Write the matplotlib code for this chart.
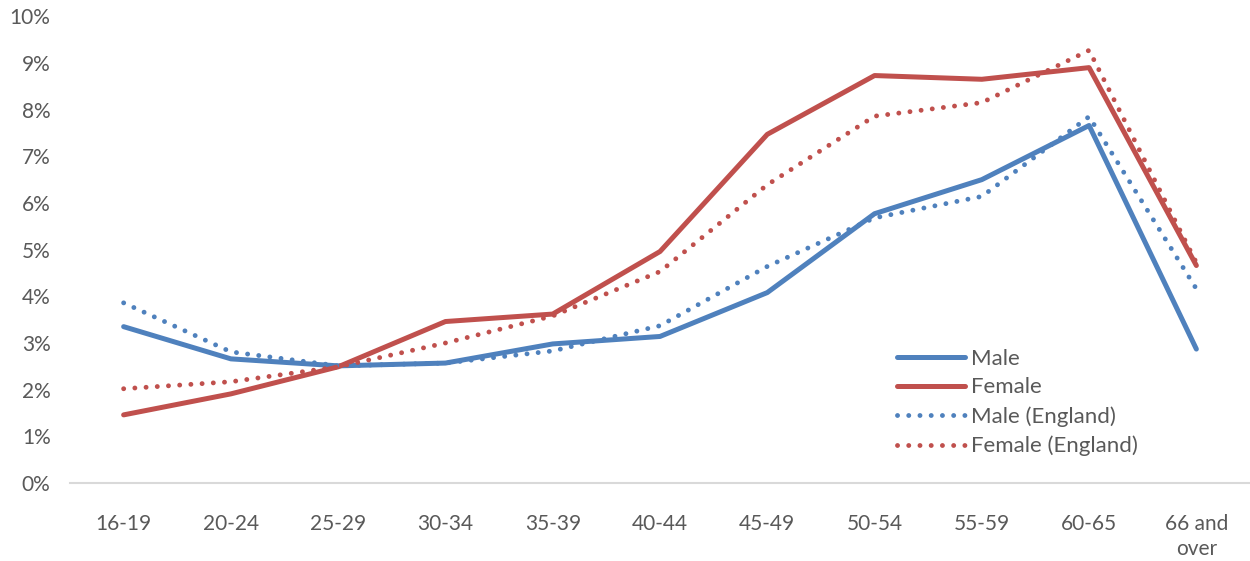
import matplotlib
matplotlib.use("Agg")
import matplotlib.pyplot as plt
from matplotlib.ticker import PercentFormatter

plt.rcParams['font.family'] = ['Lato', 'DejaVu Sans']

age_groups = ['16-19', '20-24', '25-29', '30-34', '35-39', '40-44',
              '45-49', '50-54', '55-59', '60-65', '66 and\nover']

# shares by age band, in percent
male = [3.35, 2.66, 2.51, 2.57, 2.98, 3.14, 4.08, 5.77, 6.50, 7.66, 2.87]
female = [1.46, 1.91, 2.49, 3.46, 3.62, 4.96, 7.47, 8.73, 8.65, 8.90, 4.66]
male_eng = [3.86, 2.81, 2.51, 2.57, 2.83, 3.37, 4.64, 5.68, 6.14, 7.85, 4.16]
female_eng = [2.02, 2.17, 2.49, 3.00, 3.58, 4.53, 6.39, 7.86, 8.15, 9.27, 4.72]

blue = '#4F81BD'
red = '#C0504D'
grey = '#595959'

fig = plt.figure(figsize=(12.5, 5.61), dpi=100)
ax = fig.add_axes([0.056, 0.139, 0.944, 0.832])

x = range(len(age_groups))
dots = (0, (0.01, 2.3))
ax.plot(x, male, color=blue, lw=3.6, label='Male', solid_capstyle='round', solid_joinstyle='round')
ax.plot(x, female, color=red, lw=3.6, label='Female', solid_capstyle='round', solid_joinstyle='round')
ax.plot(x, male_eng, color=blue, lw=3.5, ls=dots, dash_capstyle='round', label='Male (England)')
ax.plot(x, female_eng, color=red, lw=3.5, ls=dots, dash_capstyle='round', label='Female (England)')

ax.set_xlim(-0.5, len(age_groups) - 0.5)
ax.set_ylim(0, 10)
ax.set_yticks(range(0, 11))
ax.yaxis.set_major_formatter(PercentFormatter(decimals=0))
ax.set_xticks(list(x))
ax.set_xticklabels(age_groups, linespacing=1.35, va='top')

for side in ['top', 'right', 'left']:
    ax.spines[side].set_visible(False)
ax.spines['bottom'].set_color('#D9D9D9')
ax.spines['bottom'].set_linewidth(1.5)
ax.tick_params(axis='both', length=0, labelsize=15, colors=grey)
ax.tick_params(axis='x', pad=22)
ax.tick_params(axis='y', pad=14)

leg = ax.legend(loc='upper left', bbox_to_anchor=(0.701, 0.288), frameon=False,
                fontsize=16, handlelength=3.06, handletextpad=0.27,
                labelspacing=0.4, borderaxespad=0, borderpad=0)
for t in leg.get_texts():
    t.set_color(grey)

fig.savefig('out.png', dpi=100)
